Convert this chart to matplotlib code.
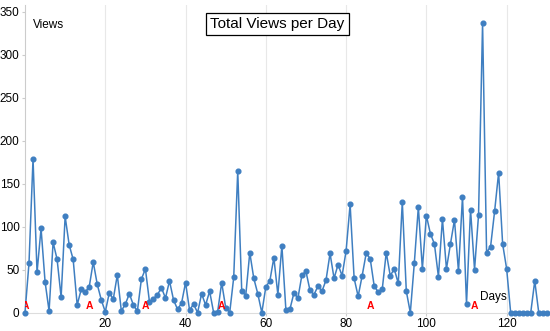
import matplotlib.pyplot as plt

plt.rcParams['font.family'] = ['Liberation Sans', 'DejaVu Sans']

# vistas por dia (dia 0 .. 130)
views = [0, 58, 179, 47, 98, 36, 2, 82, 62, 18,
         112, 79, 62, 9, 27, 24, 30, 59, 33, 15,
         1, 23, 16, 44, 2, 10, 22, 9, 2, 39,
         51, 13, 16, 21, 29, 17, 37, 15, 4, 11,
         35, 3, 10, 0, 22, 9, 25, 0, 1, 35,
         6, 0, 41, 165, 25, 20, 70, 40, 22, 0,
         30, 37, 64, 21, 78, 3, 4, 23, 17, 44,
         48, 26, 21, 31, 25, 38, 69, 40, 56, 43,
         72, 126, 40, 19, 43, 69, 63, 31, 24, 27,
         70, 43, 51, 34, 129, 25, 0, 58, 123, 51,
         113, 92, 80, 42, 109, 51, 80, 108, 48, 135,
         10, 120, 50, 114, 337, 70, 77, 118, 163, 80,
         51, 0, 0, 0, 0, 0, 0, 37, 0, 0,
         0]
days = list(range(len(views)))

# dias marcados con "A"
a_days = [0, 16, 30, 49, 86, 112]
a_level = 8

x_ticks = [20, 40, 60, 80, 100, 120]
y_ticks = [0, 50, 100, 150, 200, 250, 300, 350]

fig = plt.figure(figsize=(5.5, 3.31), dpi=100)
ax = fig.add_axes([25 / 550, 18.3 / 331, 525 / 550, 307.7 / 331])

ax.plot(days, views, color='#3f7fc1', linewidth=1.1, marker='o',
        markersize=3.4, clip_on=False, zorder=3)

for d in a_days:
    ax.text(d, a_level, 'A', color='red', fontsize=7.5, fontweight='bold',
            ha='center', va='center', clip_on=True, zorder=4)

ax.set_xlim(0, 130.8)
ax.set_ylim(0, 358)
ax.set_xticks(x_ticks)
ax.set_yticks(y_ticks)
ax.tick_params(labelsize=8.5, colors='#cccccc', labelcolor='black', length=2, pad=2)

ax.grid(axis='x', color='#e8e8e8', linewidth=0.8)
ax.set_axisbelow(True)
for s in ['top', 'right']:
    ax.spines[s].set_visible(False)
ax.spines['left'].set_color('#cccccc')
ax.spines['bottom'].set_color('#dddddd')

ax.text(2, 335, 'Views', fontsize=8.5, ha='left', va='center')
ax.text(120, 18, 'Days', fontsize=8.5, ha='right', va='center')

fig.text(0.5045, 0.928, 'Total Views per Day', fontsize=11, ha='center', va='center',
         bbox=dict(boxstyle='square,pad=0.28', facecolor='white', edgecolor='black', linewidth=0.9))

fig.savefig('out.png', dpi=100)
